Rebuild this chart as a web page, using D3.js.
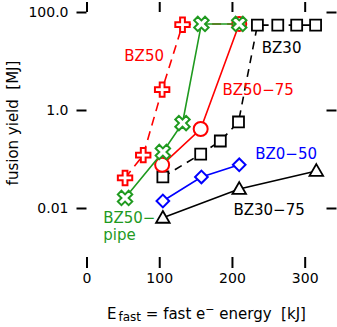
<!DOCTYPE html>
<html>
<head>
<meta charset="utf-8">
<script src="https://cdn.jsdelivr.net/npm/d3@7"></script>
<style>
  body { margin: 0; background: #fff; }
  text { font-family: "DejaVu Sans", sans-serif; }
</style>
</head>
<body>
<div id="chart"></div>
<script>
var width = 337;
var height = 327;
var margin = {left: 86.5, top: 12, right: 10.5, bottom: 70};

// fast electron energy [kJ] and fusion yield [MJ] per series
let bz50E = [53, 78, 104, 132, 158, 210];
let bz50Y = [0.041, 0.12, 2.6, 55, 57, 57];
let bz50Marked = [true, true, true, true, false, false]; // last two sit under the pipe markers
let pipeE = [53, 105, 132, 158, 210];
let pipeY = [0.016, 0.139, 0.54, 57, 57];
let bz5075E = [104, 157, 210];
let bz5075Y = [0.076, 0.41, 57];
let bz30E = [105, 157, 184, 209, 235, 263, 289, 315];
let bz30Y = [0.043, 0.126, 0.233, 0.57, 54, 54, 54, 54];
let bz050E = [105, 158, 210];
let bz050Y = [0.0139, 0.043, 0.076];
let bz3075E = [105, 210, 316];
let bz3075Y = [0.0063, 0.0244, 0.057];

let xTicks = [0, 100, 200, 300];
let yTicks = [0.01, 1, 100];
let yTickLabels = ["0.01", "1.0", "100.0"];

var green = "#1f9a1f";
var series = [
  {name: "BZ30-75", e: bz3075E, y: bz3075Y, color: "#000", dash: null, mark: "triangle", label: "BZ30\u221275", lx: 202, ly: 0.0072},
  {name: "BZ0-50", e: bz050E, y: bz050Y, color: "#0000ff", dash: null, mark: "diamond", label: "BZ0\u221250", lx: 232, ly: 0.1},
  {name: "BZ30", e: bz30E, y: bz30Y, color: "#000", dash: "8,6", mark: "square", label: "BZ30", lx: 241, ly: 14.6},
  {name: "BZ50", e: bz50E, y: bz50Y, color: "#ff0000", dash: "9,6", mark: "plus", label: "BZ50", lx: 52, ly: 10, shown: bz50Marked},
  {name: "BZ50-75", e: bz5075E, y: bz5075Y, color: "#ff0000", dash: null, mark: "circle", label: "BZ50\u221275", lx: 187, ly: 2.02},
  {name: "BZ50-pipe", e: pipeE, y: pipeY, color: green, dash: null, mark: "x", label: "BZ50\u2212", lx: 23, ly: 0.0049, label2: "pipe"}
];

var w = width - margin.left - margin.right;
var h = height - margin.top - margin.bottom;

let scaleX = d3.scaleLinear().domain([0, 330]).range([0, w]);
let scaleY = d3.scaleLog().domain([0.001, 100]).range([h, 0]);

let svg = d3.select("#chart")
            .append("svg")
            .attr("width", width)
            .attr("height", height);

let chart = svg.append("g")
            .attr("transform", "translate(" + margin.left + "," + margin.top + ")");

// tick-only frame on four sides
function styleAxis(g) {
    g.select(".domain").remove();
    g.selectAll(".tick line").attr("stroke", "#000").attr("stroke-width", 2);
    g.selectAll(".tick text").attr("fill", "#000")
        .style("font-family", "'DejaVu Sans', sans-serif").style("font-size", "14px");
}

chart.append("g")
    .attr("transform", "translate(0," + h + ")")
    .call(d3.axisBottom(scaleX).tickValues(xTicks).tickSize(11).tickPadding(5).tickFormat(d3.format("d")))
    .call(styleAxis);
chart.append("g")
    .call(d3.axisTop(scaleX).tickValues(xTicks).tickSize(10).tickFormat(""))
    .call(styleAxis);
chart.append("g")
    .call(d3.axisLeft(scaleY).tickValues(yTicks).tickSize(10).tickPadding(8)
        .tickFormat(function(d, i) { return yTickLabels[i]; }))
    .call(styleAxis);
chart.append("g")
    .attr("transform", "translate(" + w + ",0)")
    .call(d3.axisRight(scaleY).tickValues(yTicks).tickSize(10).tickFormat(""))
    .call(styleAxis);

let line = d3.line()
    .x(function(d) { return scaleX(d[0]); })
    .y(function(d) { return scaleY(d[1]); });

var symCross = d3.symbol().type(d3.symbolCross).size(115);
var symX = d3.symbol().type(d3.symbolCross).size(130);
var symSquare = d3.symbol().type(d3.symbolSquare).size(120);
var symDiamond = d3.symbol().type(d3.symbolSquare).size(80);
var symTri = d3.symbol().type(d3.symbolTriangle).size(80);

series.forEach(function(s) {
    let pts = s.e.map(function(e, i) { return [e, s.y[i]]; });
    let g = chart.append("g").attr("class", "series");

    g.append("path")
        .datum(pts)
        .attr("d", line)
        .attr("fill", "none")
        .attr("stroke", s.color)
        .attr("stroke-width", 1.6)
        .attr("stroke-dasharray", s.dash);

    let marked = pts.filter(function(d, i) { return !s.shown || s.shown[i]; });
    let m = g.selectAll(".mark")
        .data(marked)
        .enter()
        .append("g")
        .attr("transform", function(d) { return "translate(" + scaleX(d[0]) + "," + scaleY(d[1]) + ")"; });

    if (s.mark === "circle") {
        m.append("circle").attr("r", 7);
    } else if (s.mark === "plus") {
        m.append("path").attr("d", symCross);
    } else if (s.mark === "x") {
        m.append("path").attr("d", symX).attr("transform", "rotate(45)");
    } else if (s.mark === "square") {
        m.append("path").attr("d", symSquare);
    } else if (s.mark === "diamond") {
        m.append("path").attr("d", symDiamond).attr("transform", "rotate(45)");
    } else {
        m.append("path").attr("d", symTri).attr("transform", "translate(0,1)");
    }
    m.selectAll("path, circle")
        .attr("fill", "#fff")
        .attr("stroke", s.color)
        .attr("stroke-width", s.mark === "square" || s.mark === "triangle" ? 1.8 : 2);

    chart.append("text")
        .attr("x", scaleX(s.lx))
        .attr("y", scaleY(s.ly))
        .attr("fill", s.color)
        .style("font-size", "15px")
        .text(s.label);
    if (s.label2) {
        chart.append("text")
            .attr("x", scaleX(s.lx))
            .attr("y", scaleY(s.ly) + 17)
            .attr("fill", s.color)
            .style("font-size", "15px")
            .text(s.label2);
    }
});

// axis titles
let xt = svg.append("text")
    .attr("x", 107)
    .attr("y", 319)
    .attr("fill", "#000")
    .style("font-size", "15px");
xt.append("tspan").text("E");
xt.append("tspan").attr("dx", 2).attr("dy", 2).style("font-size", "12px").text("fast");
xt.append("tspan").attr("dy", -2).text(" = fast e");
xt.append("tspan").attr("dy", -6).style("font-size", "11px").text("\u2212");
xt.append("tspan").attr("dy", 6).text(" energy\u00a0\u00a0[kJ]");

svg.append("text")
    .attr("transform", "translate(18,123) rotate(-90)")
    .attr("text-anchor", "middle")
    .attr("fill", "#000")
    .style("font-size", "15px")
    .text("fusion yield\u00a0\u00a0[MJ]");
</script>
</body>
</html>
